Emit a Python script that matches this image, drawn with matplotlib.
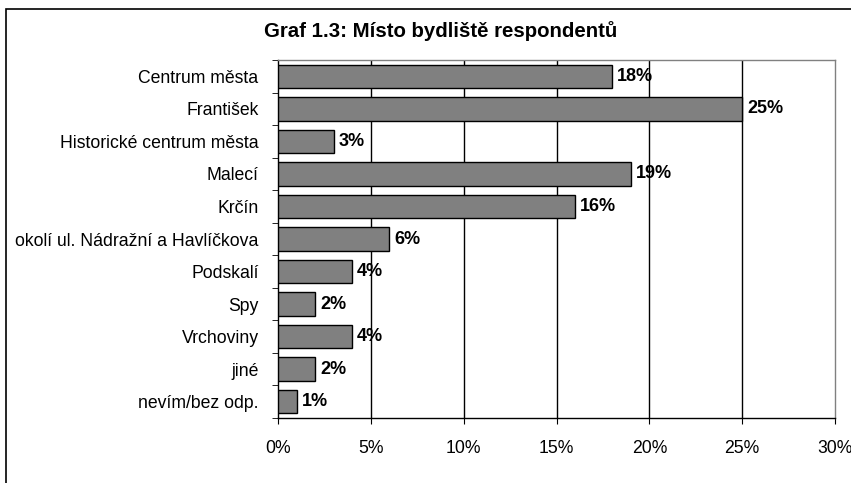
import matplotlib.pyplot as plt
import numpy as np
from matplotlib.patches import Rectangle
from matplotlib.ticker import FixedLocator

plt.rcParams['font.family'] = ['Liberation Sans', 'DejaVu Sans']

# data
kategorie = ["Centrum města", "František", "Historické centrum města", "Malecí",
             "Krčín", "okolí ul. Nádražní a Havlíčkova", "Podskalí", "Spy",
             "Vrchoviny", "jiné", "nevím/bez odp."]
podily = [18, 25, 3, 19, 16, 6, 4, 2, 4, 2, 1]
xticks = [0, 5, 10, 15, 20, 25, 30]
titulek = "Graf 1.3: Místo bydliště respondentů"

fig = plt.figure(figsize=(8.51, 4.83), dpi=100)
ax = fig.add_axes([278 / 851, 1 - 418 / 483, (835 - 278) / 851, (418 - 60) / 483])

y = np.arange(len(kategorie))
ax.barh(y, podily, height=0.72, color="#808080", edgecolor="black", linewidth=1, zorder=3)
for yi, v in zip(y, podily):
    ax.annotate(f"{v}%", (v, yi), xytext=(3.5, 0), textcoords="offset points",
                ha="left", va="center", fontsize=13, fontweight="bold", zorder=4)

ax.set_ylim(len(kategorie) - 0.5, -0.5)
ax.set_xlim(0, 30)
ax.set_yticks(y)
ax.set_yticklabels(kategorie, fontsize=12.7)
ax.yaxis.set_minor_locator(FixedLocator(np.arange(-0.5, len(kategorie), 1)))
ax.tick_params(axis="y", which="major", length=0, pad=14)
ax.tick_params(axis="y", which="minor", length=4, direction="out", color="black")
ax.set_xticks(xticks)
ax.set_xticklabels([f"{t}%" for t in xticks], fontsize=12.7)
ax.tick_params(axis="x", length=4, direction="out", pad=12, color="black")

# svisla mrizka
for t in xticks[1:-1]:
    ax.axvline(t, color="black", linewidth=1, zorder=1)

ax.spines["left"].set_color("black")
ax.spines["bottom"].set_color("black")
ax.spines["top"].set_color("#808080")
ax.spines["right"].set_color("#808080")
for s in ax.spines.values():
    s.set_linewidth(1)

fig.text(441 / 851, 1 - 31 / 483, titulek, ha="center", va="center",
         fontsize=14.7, fontweight="bold")

# ramecek grafu (oriznuty vpravo a dole)
fig.patches.append(Rectangle((6 / 851, -0.2), 1.2, 1.2 - 9 / 483,
                             transform=fig.transFigure, fill=False,
                             edgecolor="black", linewidth=1.2))

fig.savefig("out.png", dpi=100)
